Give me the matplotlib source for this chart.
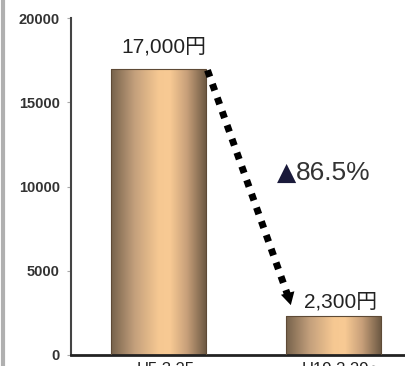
import numpy as np
import matplotlib
matplotlib.use("Agg")
import matplotlib.pyplot as plt
from matplotlib.colors import LinearSegmentedColormap
from matplotlib.lines import Line2D

categories = ["H5.3.25", "H19.3.29～"]
values = [17000, 2300]
value_labels = ["17,000円", "2,300円"]
change_label = "86.5%"
yticks = [0, 5000, 10000, 15000, 20000]

FONT = ["Liberation Sans", "Noto Sans CJK JP", "DejaVu Sans"]

fig = plt.figure(figsize=(4.05, 3.66), dpi=100)
ax = fig.add_axes([71/405, 11/366, 350/405, 337/366])

x = np.arange(len(categories))
width = 0.54
bars = ax.bar(x, values, width=width, color="none", edgecolor="#5e4a36", linewidth=0.8, zorder=3)

cmap = LinearSegmentedColormap.from_list(
    "copper", [(0.0, "#76624c"), (0.25, "#c4a07c"), (0.5, "#f6c892"),
               (0.62, "#f8ca94"), (0.8, "#c8a07a"), (1.0, "#6e5a44")])
grad = np.linspace(0, 1, 256).reshape(1, -1)
for b in bars:
    im = ax.imshow(grad, cmap=cmap, aspect="auto",
                   extent=[b.get_x(), b.get_x() + b.get_width(), 0, b.get_height()],
                   zorder=2)
    im.set_clip_path(b)

ax.set_xlim(-0.5, 1.5)
ax.set_ylim(0, 20000)
ax.set_yticks(yticks)
ax.set_yticklabels([str(v) for v in yticks], fontsize=10.5, fontweight="bold",
                   color="#333333", family=FONT)
ax.tick_params(axis="y", length=3, color="#aaaaaa", pad=5)
ax.set_xticks(x)
ax.set_xticklabels([])
ax.tick_params(axis="x", length=0)
xt = ax.get_xaxis_transform()
ax.text(x[0] - 0.123, -0.021, categories[0], transform=xt, ha="left", va="top",
        fontsize=12, family=FONT, color="#222222", clip_on=False)
ax.text(x[1] - 0.18, -0.021, categories[1], transform=xt, ha="left", va="top",
        fontsize=12, family=FONT, color="#222222", clip_on=False)

for s in ["top", "right"]:
    ax.spines[s].set_visible(False)
ax.spines["left"].set_color("#444444")
ax.spines["left"].set_linewidth(1.5)
ax.spines["bottom"].set_color("#222222")
ax.spines["bottom"].set_linewidth(2)

# value labels
ax.text(x[0] + 0.03, values[0] + 1300, value_labels[0], ha="center", va="center",
        fontsize=15, family=FONT, color="#222222")
ax.text(x[1] + 0.04, values[1] + 850, value_labels[1], ha="center", va="center",
        fontsize=15, family=FONT, color="#222222")

# change label
ax.text(0.785, 10800, "▲", ha="right", va="center", fontsize=18,
        family=["DejaVu Sans"], color="#1a1a3a")
ax.text(0.785, 10800, change_label, ha="left", va="center", fontsize=19,
        family=FONT, color="#333333")

# dotted arrow
x0, y0 = x[0] + width / 2 + 0.01, values[0] - 100
x1, y1 = 0.74, 3500
ax.plot([x0, x1], [y0, y1], linestyle=(0, (1, 1.1)), color="black",
        linewidth=5, solid_capstyle="butt", dash_capstyle="butt", zorder=4)
ax.annotate("", xy=(0.76, 2800), xytext=(0.735, 3800),
            arrowprops=dict(arrowstyle="-|>,head_length=0.9,head_width=0.5",
                            color="black", lw=0), zorder=5)

# left gray border line
fig.add_artist(Line2D([3/405, 3/405], [0, 1], color="#b0b0b0", linewidth=3,
                      transform=fig.transFigure))

fig.savefig("out.png", dpi=100)
